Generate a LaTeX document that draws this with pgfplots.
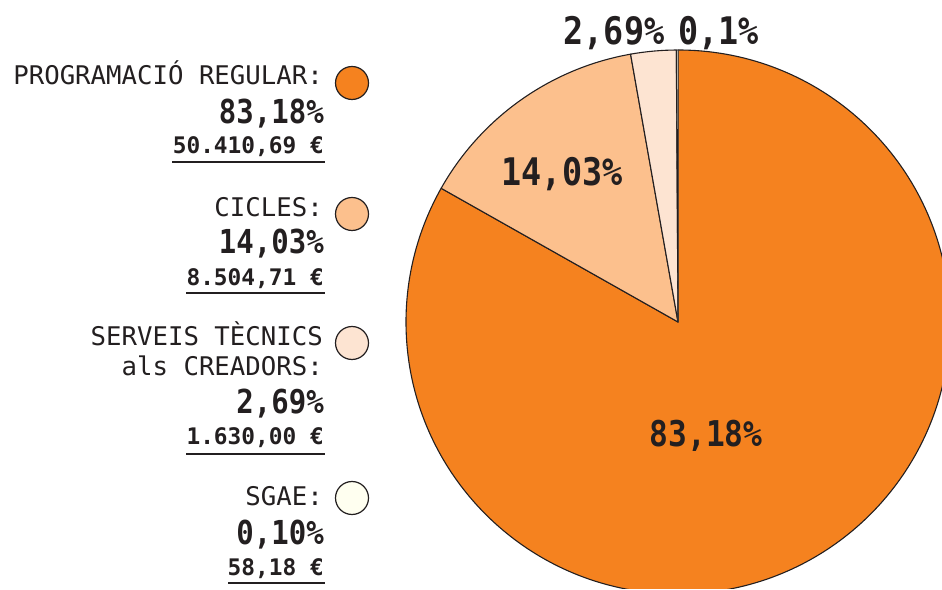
\documentclass[border=0pt]{standalone}
\usepackage{pgfplots}
\usepackage{pgfplotstable}
\pgfplotsset{compat=1.18}
\usepackage{fontspec}
\setmainfont{DejaVu Sans Mono}
\newfontfamily\reg{DejaVu Sans Mono}
\newfontfamily\bnum[FakeStretch=0.88]{DejaVu Sans Mono Bold}
\newfontfamily\beur{DejaVu Sans Mono Bold}
\definecolor{cA}{HTML}{F5821F}
\definecolor{cB}{HTML}{FCC08D}
\definecolor{cC}{HTML}{FDE4D2}
\definecolor{cD}{HTML}{FFFFF0}
\definecolor{ink}{HTML}{231F20}

\pgfplotstableread{
share
83.18
14.03
2.69
0.10
}\piedata

\begin{document}
\begin{tikzpicture}
\pgfplotstablegetelem{0}{share}\of\piedata \let\sA\pgfplotsretval
\pgfplotstablegetelem{1}{share}\of\piedata \let\sB\pgfplotsretval
\pgfplotstablegetelem{2}{share}\of\piedata \let\sC\pgfplotsretval
\pgfplotstablegetelem{3}{share}\of\piedata \let\sD\pgfplotsretval
\pgfmathsetmacro\aZ{90}
\pgfmathsetmacro\aA{\aZ-3.6*\sA}
\pgfmathsetmacro\aB{\aA-3.6*\sB}
\pgfmathsetmacro\aC{\aB-3.6*\sC}
\pgfmathsetmacro\aD{\aC-3.6*\sD}
\begin{axis}[
  scale only axis, width=942pt, height=589pt,
  xmin=0, xmax=942, ymin=0, ymax=589,
  hide axis, clip=true,
]
\addplot[draw=none] coordinates {(0,0) (942,589)};
% pie: centre (678,267), radius 272
\filldraw[fill=cA, draw=ink, line width=1.1pt, line join=round] (axis cs:678,267) -- ++(\aZ:272pt) arc[start angle=\aZ, end angle=\aA, radius=272pt] -- cycle;
\filldraw[fill=cB, draw=ink, line width=1.1pt, line join=round] (axis cs:678,267) -- ++(\aA:272pt) arc[start angle=\aA, end angle=\aB, radius=272pt] -- cycle;
\filldraw[fill=cC, draw=ink, line width=1.1pt, line join=round] (axis cs:678,267) -- ++(\aB:272pt) arc[start angle=\aB, end angle=\aC, radius=272pt] -- cycle;
\filldraw[fill=cD, draw=ink, line width=0.9pt, line join=round] (axis cs:678,267) -- ++(\aC:272pt) arc[start angle=\aC, end angle=\aD, radius=272pt] -- cycle;
% pie labels
\node[anchor=base, inner sep=0, text=ink, font=\bnum\fontsize{35.5}{40}\selectfont] at (axis cs:706,142) {83,18\%};
\node[anchor=base, inner sep=0, text=ink, font=\bnum\fontsize{38}{42}\selectfont] at (axis cs:562,403) {14,03\%};
\node[anchor=base, inner sep=0, text=ink, font=\bnum\fontsize{38}{42}\selectfont] at (axis cs:614,544) {2,69\%};
\node[anchor=base, inner sep=0, text=ink, font=\bnum\fontsize{38}{42}\selectfont] at (axis cs:718.5,544) {0,1\%};
% legend
\tikzset{lt/.style={anchor=base east, inner sep=0, text=ink, font=\reg\fontsize{25.7}{30}\selectfont},
         lp/.style={anchor=base east, inner sep=0, text=ink, font=\bnum\fontsize{33}{38}\selectfont},
         le/.style={anchor=base east, inner sep=0, text=ink, font=\beur\fontsize{22.8}{26}\selectfont}}
% row 1
\node[lt] at (axis cs:323,504) {PROGRAMACIÓ REGULAR:};
\node[lp] at (axis cs:324,465) {83,18\%};
\node[le] at (axis cs:324,435) {50.410,69 €};
\draw[ink, line width=2pt] (axis cs:172,427) -- (axis cs:325,427);
\filldraw[fill=cA, draw=ink, line width=1.2pt] (axis cs:352,506) circle[radius=16.5pt];
% row 2
\node[lt] at (axis cs:323,372) {CICLES:};
\node[lp] at (axis cs:324,335) {14,03\%};
\node[le] at (axis cs:324,303) {8.504,71 €};
\draw[ink, line width=2pt] (axis cs:186,296) -- (axis cs:325,296);
\filldraw[fill=cB, draw=ink, line width=1.2pt] (axis cs:352,375) circle[radius=16.5pt];
% row 3
\node[lt] at (axis cs:323,243) {SERVEIS TÈCNICS};
\node[lt] at (axis cs:323,213) {als CREADORS:};
\node[lp] at (axis cs:324,175) {2,69\%};
\node[le] at (axis cs:324,144) {1.630,00 €};
\draw[ink, line width=2pt] (axis cs:186,135) -- (axis cs:325,135);
\filldraw[fill=cC, draw=ink, line width=1.2pt] (axis cs:352,246) circle[radius=16.5pt];
% row 4
\node[lt] at (axis cs:323,83) {SGAE:};
\node[lp] at (axis cs:324,44) {0,10\%};
\node[le] at (axis cs:324,13) {58,18 €};
\draw[ink, line width=2pt] (axis cs:228,6) -- (axis cs:325,6);
\filldraw[fill=cD, draw=ink, line width=1.2pt] (axis cs:352,91) circle[radius=16.5pt];
\end{axis}
\end{tikzpicture}
\end{document}
